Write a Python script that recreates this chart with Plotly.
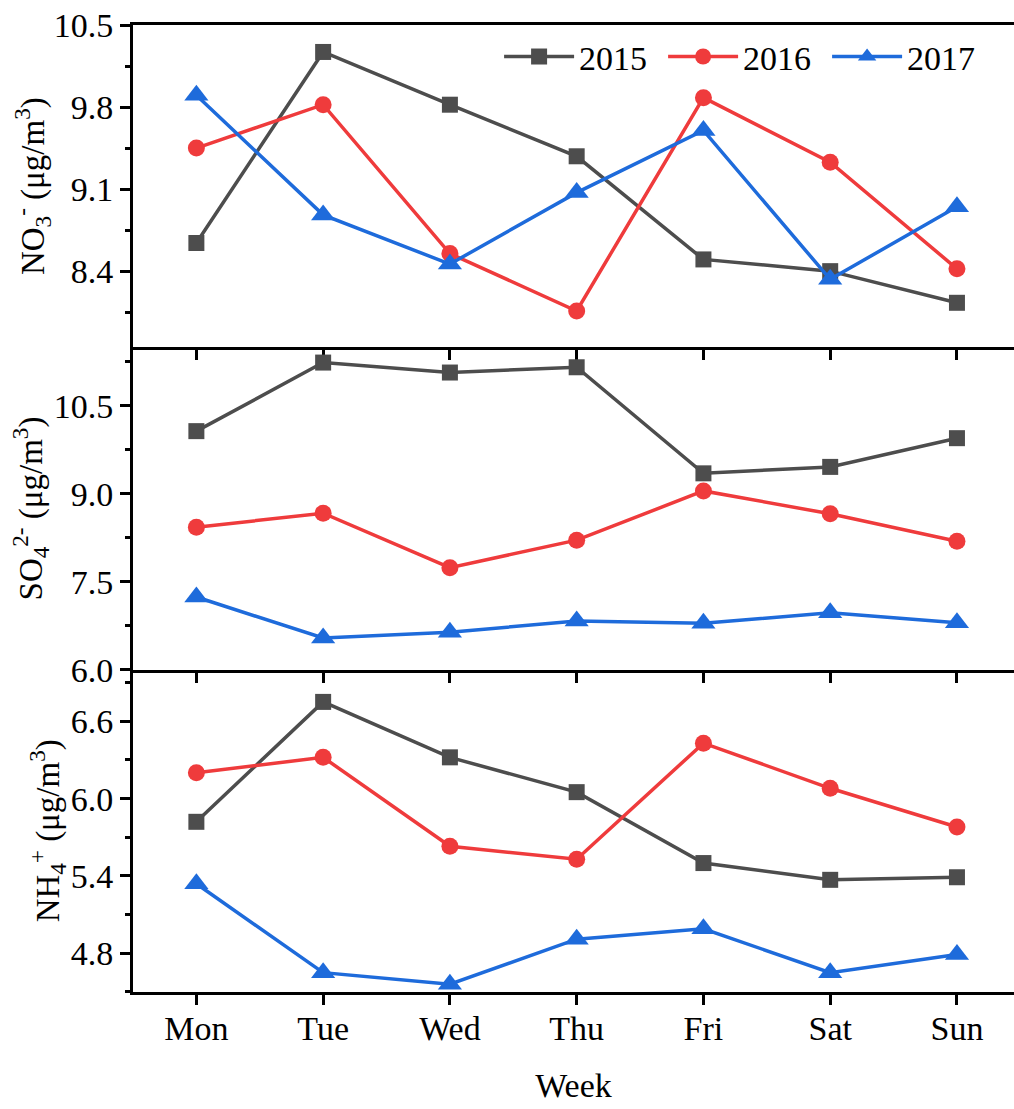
import plotly.graph_objects as go
from plotly.subplots import make_subplots

days = ["Mon", "Tue", "Wed", "Thu", "Fri", "Sat", "Sun"]
years = ["2015", "2016", "2017"]

# Weekly mean concentrations (µg/m³)
no3_2015 = [8.64, 10.27, 9.82, 9.38, 8.50, 8.40, 8.13]
no3_2016 = [9.45, 9.82, 8.55, 8.06, 9.88, 9.33, 8.42]
no3_2017 = [9.90, 8.88, 8.46, 9.07, 9.60, 8.33, 8.95]

so4_2015 = [10.07, 11.24, 11.07, 11.16, 9.35, 9.46, 9.95]
so4_2016 = [8.43, 8.67, 7.74, 8.21, 9.05, 8.66, 8.19]
so4_2017 = [7.24, 6.54, 6.64, 6.83, 6.79, 6.97, 6.80]

nh4_2015 = [5.82, 6.75, 6.32, 6.05, 5.50, 5.37, 5.39]
nh4_2016 = [6.20, 6.32, 5.63, 5.53, 6.43, 6.08, 5.78]
nh4_2017 = [5.34, 4.65, 4.56, 4.91, 4.99, 4.65, 4.79]

colors = ["#4d4d4d", "#ef3b3c", "#1e6bdb"]
symbols = ["square", "circle", "triangle-up"]
msizes = [16, 17, 21]

FONT = "Liberation Serif, Times New Roman, serif"

panels = [
    (no3_2015, no3_2016, no3_2017),
    (so4_2015, so4_2016, so4_2017),
    (nh4_2015, nh4_2016, nh4_2017),
]

fig = make_subplots(rows=3, cols=1, shared_xaxes=False, vertical_spacing=0)

for r, series in enumerate(panels, start=1):
    for i, vals in enumerate(series):
        fig.add_trace(
            go.Scatter(
                x=days, y=vals, name=years[i],
                mode="lines+markers",
                line=dict(color=colors[i], width=3.5),
                marker=dict(symbol=symbols[i], size=msizes[i], color=colors[i],
                            line=dict(width=0)),
                showlegend=(r == 1),
                cliponaxis=False,
            ),
            row=r, col=1,
        )

yaxes_cfg = [
    dict(range=[7.75, 10.5], tick0=8.4, dtick=0.7,
         title="NO<sub>3</sub><sup>-</sup> (μg/m<sup>3</sup>)"),
    dict(range=[6.0, 11.5], tick0=6.0, dtick=1.5,
         title="SO<sub>4</sub><sup>2-</sup> (μg/m<sup>3</sup>)"),
    dict(range=[4.5, 7.0], tick0=4.8, dtick=0.6,
         title="NH<sub>4</sub><sup>+</sup> (μg/m<sup>3</sup>)"),
]

for r, cfg in enumerate(yaxes_cfg, start=1):
    fig.update_yaxes(
        range=cfg["range"], tickmode="linear", tick0=cfg["tick0"], dtick=cfg["dtick"],
        tickformat=".1f",
        ticks="outside", ticklen=10, tickwidth=3, tickcolor="black",
        minor=dict(tickmode="linear", tick0=cfg["tick0"], dtick=cfg["dtick"] / 2,
                   ticks="outside", ticklen=5, tickwidth=3, tickcolor="black",
                   showgrid=False),
        showline=True, linewidth=3, linecolor="black", mirror=False,
        showgrid=False, zeroline=False,
        tickfont=dict(family=FONT, size=34, color="black"),
        title=dict(text=cfg["title"], font=dict(family=FONT, size=33, color="black"),
                   standoff=0),
        row=r, col=1,
    )
    fig.update_xaxes(
        type="category", range=[-0.5, 6.45],
        ticks="outside", ticklen=10, tickwidth=3, tickcolor="black",
        showline=True, linewidth=3, linecolor="black", mirror=(r == 1),
        showgrid=False, zeroline=False,
        showticklabels=(r == 3),
        ticklabelstandoff=-6,
        tickfont=dict(family=FONT, size=34, color="black"),
        row=r, col=1,
    )

fig.update_xaxes(title=dict(text="Week", font=dict(family=FONT, size=34, color="black"),
                            standoff=28), row=3, col=1)

fig.update_layout(
    width=1014, height=1109,
    margin=dict(l=133, r=0, t=25, b=117),
    paper_bgcolor="white", plot_bgcolor="rgba(0,0,0,0)",
    font=dict(family=FONT, color="black"),
    legend=dict(
        orientation="h", x=0.974, xanchor="right", y=0.967, yanchor="middle",
        font=dict(family=FONT, size=34, color="black"),
        bgcolor="rgba(0,0,0,0)", itemwidth=70, tracegroupgap=0,
        entrywidthmode="pixels", entrywidth=79,
    ),
)

fig.write_html("out.html")
